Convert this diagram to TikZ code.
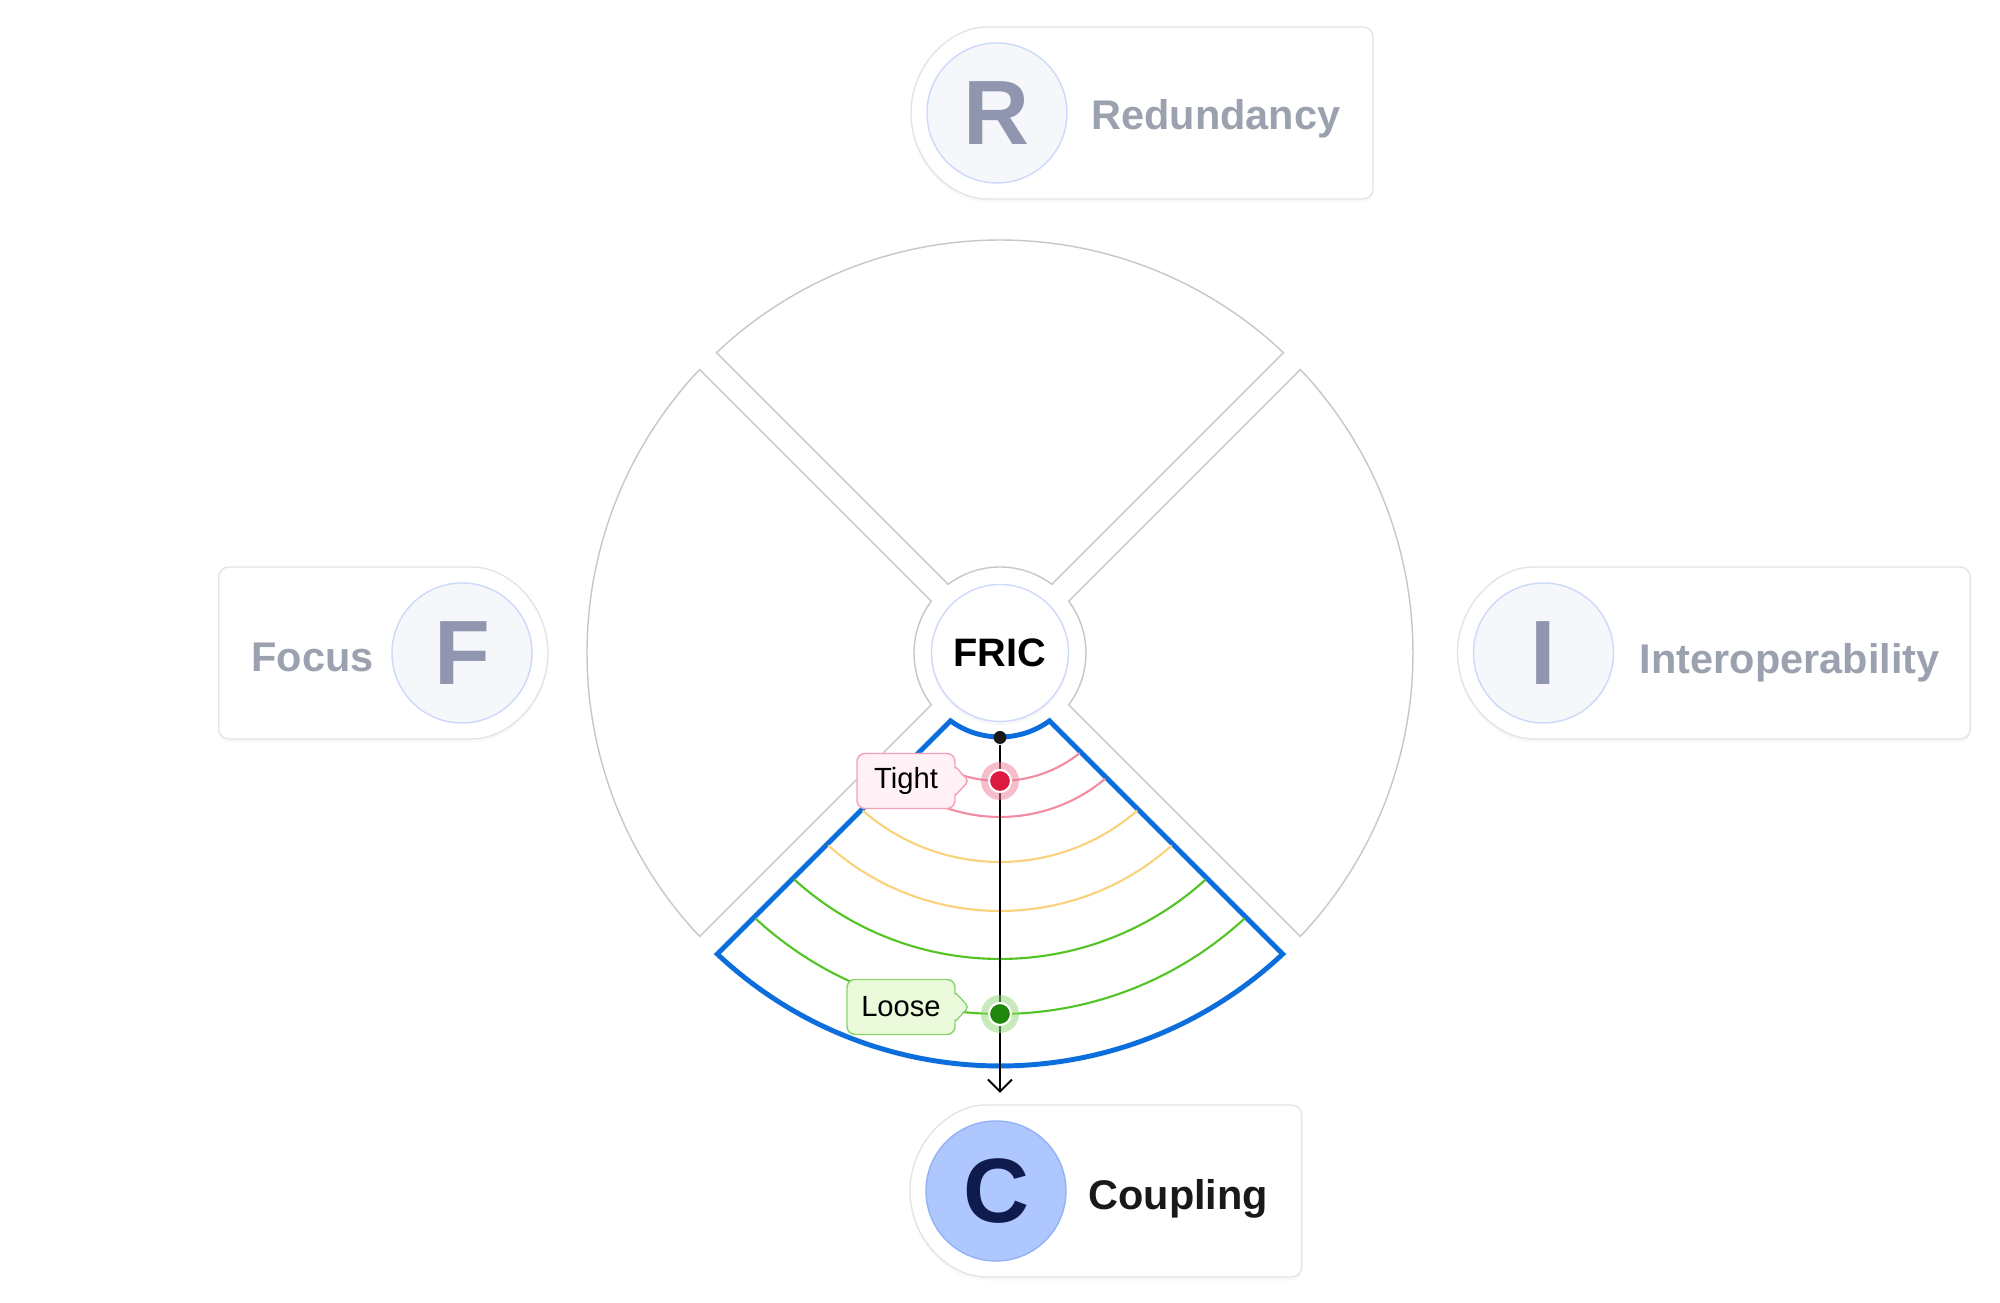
\documentclass[tikz,border=0pt]{standalone}
\usepackage{fontspec}
\setmainfont{Liberation Sans}
\usepackage{xcolor}
\usetikzlibrary{arrows.meta,positioning,calc,backgrounds,shadows}

\definecolor{secgray}{HTML}{C4C7CE}
\definecolor{actblue}{HTML}{0B6EDC}
\definecolor{tightc}{HTML}{F38BA3}
\definecolor{midc}{HTML}{FBD27C}
\definecolor{loosec}{HTML}{52C423}
\definecolor{cardline}{HTML}{E2E4EA}
\definecolor{letterfill}{HTML}{F6F7FA}
\definecolor{letterline}{HTML}{CDD9FB}
\definecolor{lettergray}{HTML}{9196B0}
\definecolor{namegray}{HTML}{9BA1AF}
\definecolor{cfill}{HTML}{AFC7FF}
\definecolor{cline}{HTML}{93B1F6}
\definecolor{cnavy}{HTML}{0F1A4D}
\definecolor{tightfill}{HTML}{FFF1F5}
\definecolor{tightline}{HTML}{F3A2B5}
\definecolor{tightdot}{HTML}{DC1A40}
\definecolor{tighthalo}{HTML}{EF7F99}
\definecolor{loosefill}{HTML}{EBFADB}
\definecolor{looseline}{HTML}{88D36E}
\definecolor{loosedot}{HTML}{1E870C}
\definecolor{loosehalo}{HTML}{8FD776}

\begin{document}
\begin{tikzpicture}[
  sector/.style={draw=secgray, line width=0.4pt, fill=white},
  active/.style={draw=actblue, line width=1.4pt, fill=white, drop shadow={shadow xshift=0pt, shadow yshift=-1pt, opacity=0.06}},
  ring/.style={line width=0.6pt},
  card/.style={draw=cardline, line width=0.4pt, fill=white, rounded corners=0.1cm, drop shadow={shadow xshift=0pt, shadow yshift=-1pt, opacity=0.05}},
  letter/.style={circle, draw=letterline, line width=0.4pt, fill=letterfill, minimum size=1.4cm, inner sep=0pt, font=\fontsize{26}{26}\selectfont\bfseries, text=lettergray},
  cardname/.style={inner sep=0pt, font=\fontsize{11.8}{12}\selectfont\bfseries, text=namegray},
  tag/.style={rectangle, rounded corners=0.08cm, line width=0.4pt, minimum height=0.55cm, inner sep=0pt, font=\fontsize{8.3}{9}\selectfont, text=black},
  halo/.style={circle, inner sep=0pt, minimum size=0.38cm, fill opacity=0.5},
  dot/.style={circle, inner sep=0pt, minimum size=0.22cm, draw=white, line width=0.6pt},
  arr/.style={-{Straight Barb[length=1.2mm, width=2.4mm]}, line width=0.6pt}
]
\useasboundingbox (-10,-6.5) rectangle (10,6.53);

% the three grey quarters
\foreach \a in {0,90,180}
  \draw[sector] ({\a-43.34}:4.13) arc[start angle={\a-43.34}, end angle={\a+43.34}, radius=4.13]
    -- ({\a+36.98}:0.86) arc[start angle={\a+36.98}, end angle={\a-36.98}, radius=0.86] -- cycle;

% coupling quarter
\draw[active] (226.8:4.13) arc[start angle=226.8, end angle=313.2, radius=4.13]
  -- (306.1:0.84) arc[start angle=306.1, end angle=233.9, radius=0.84] -- cycle;
\foreach \rr/\cc in {1.28/tightc, 1.64/tightc, 2.09/midc, 2.58/midc, 3.06/loosec, 3.61/loosec}
  \draw[ring, \cc] ({225+asin(0.145/\rr)}:\rr) arc[start angle={225+asin(0.145/\rr)}, end angle={315-asin(0.145/\rr)}, radius=\rr];

\node[circle, fill=white, draw=letterline, line width=0.4pt, minimum size=1.37cm, inner sep=0pt,
  font=\fontsize{11.3}{12}\selectfont\bfseries, drop shadow={shadow xshift=0pt, shadow yshift=-1pt, opacity=0.06}] (fric) at (0,0) {FRIC};

\node[circle, fill=black!90, inner sep=0pt, minimum size=0.13cm] (start) at (270:0.845) {};
\coordinate (end) at (0,-4.40);
\draw[arr] (start) -- (end);

\node[halo, fill=tighthalo] (thalo) at (0,-1.28) {};
\node[dot, fill=tightdot] (tdot) at (0,-1.28) {};
\node[halo, fill=loosehalo] (lhalo) at (0,-3.61) {};
\node[dot, fill=loosedot] (ldot) at (0,-3.61) {};

\node[tag, fill=tightfill, draw=tightline, minimum width=0.98cm] (tight) at ($(tdot.center)+(-0.94,0)$) {Tight};
\node[tag, fill=loosefill, draw=looseline, minimum width=1.08cm] (loose) at ($(ldot.center)+(-0.99,0.07)$) {Loose};
% little pointers on the tags
\foreach \n/\f/\l in {tight/tightfill/tightline, loose/loosefill/looseline} {
  \fill[\f] ($(\n.east)+(-0.03,0.14)$) -- ($(\n.east)+(0.13,0)$) -- ($(\n.east)+(-0.03,-0.14)$) -- cycle;
  \draw[\l, line width=0.4pt, rounded corners=0.04cm] ($(\n.east)+(0,0.14)$) -- ($(\n.east)+(0.13,0)$) -- ($(\n.east)+(0,-0.14)$);
}

% cards
\node[letter] (R) at (-0.03,5.40) {R};
\node[cardname, right=0.23cm of R, anchor=base west, yshift=-0.17cm] (Rname) {Redundancy};
\node[letter] (F) at (-5.38,0) {F};
\node[cardname, left=0.17cm of F, anchor=base east, yshift=-0.19cm] (Fname) {Focus};
\node[letter] (I) at (5.435,0) {I};
\node[cardname, right=0.25cm of I, anchor=base west, yshift=-0.21cm] (Iname) {Interoperability};
\node[letter, fill=cfill, draw=cline, text=cnavy] (C) at (-0.04,-5.38) {C};
\node[cardname, right=0.21cm of C, anchor=base west, yshift=-0.19cm, text=black!90] (Cname) {Coupling};

\begin{scope}[on background layer]
  \draw[card] ($(R)+(0,0.86)$) arc[start angle=90, end angle=270, radius=0.86]
    -- ($(Rname.east |- R.center)+(0.32,-0.86)$) -- ++(0,1.72) -- cycle;
  \draw[card] ($(C)+(0,0.86)$) arc[start angle=90, end angle=270, radius=0.86]
    -- ($(Cname.east |- C.center)+(0.33,-0.86)$) -- ++(0,1.72) -- cycle;
  \draw[card] ($(I)+(0,0.86)$) arc[start angle=90, end angle=270, radius=0.86]
    -- ($(Iname.east |- I.center)+(0.30,-0.86)$) -- ++(0,1.72) -- cycle;
  \draw[card] ($(F)+(0,0.86)$) arc[start angle=90, end angle=-90, radius=0.86]
    -- ($(Fname.west |- F.center)+(-0.32,-0.86)$) -- ++(0,1.72) -- cycle;
\end{scope}
\end{tikzpicture}
\end{document}
